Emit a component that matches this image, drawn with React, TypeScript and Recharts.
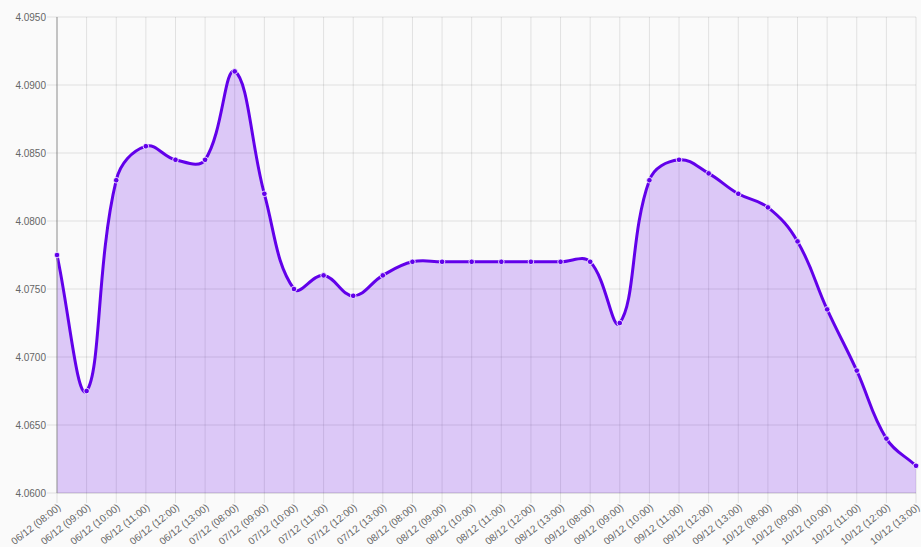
import React from 'react'
import { AreaChart, Area, XAxis, YAxis, CartesianGrid } from 'recharts'

// ─── data ─────────────────────────────────────────────────────────────────────
const labels = [
  '06/12 (08:00)', '06/12 (09:00)', '06/12 (10:00)', '06/12 (11:00)', '06/12 (12:00)', '06/12 (13:00)',
  '07/12 (08:00)', '07/12 (09:00)', '07/12 (10:00)', '07/12 (11:00)', '07/12 (12:00)', '07/12 (13:00)',
  '08/12 (08:00)', '08/12 (09:00)', '08/12 (10:00)', '08/12 (11:00)', '08/12 (12:00)', '08/12 (13:00)',
  '09/12 (08:00)', '09/12 (09:00)', '09/12 (10:00)', '09/12 (11:00)', '09/12 (12:00)', '09/12 (13:00)',
  '10/12 (08:00)', '10/12 (09:00)', '10/12 (10:00)', '10/12 (11:00)', '10/12 (12:00)', '10/12 (13:00)',
]

const rates = [
  4.0775, 4.0675, 4.083, 4.0855, 4.0845, 4.0845,
  4.091, 4.082, 4.075, 4.076, 4.0745, 4.076,
  4.077, 4.077, 4.077, 4.077, 4.077, 4.077,
  4.077, 4.0725, 4.083, 4.0845, 4.0835, 4.082,
  4.081, 4.0785, 4.0735, 4.069, 4.064, 4.062,
]

const yTicks = [4.06, 4.065, 4.07, 4.075, 4.08, 4.085, 4.09, 4.095]

const data = labels.map((label, i) => ({ label, rate: rates[i] }))

const LINE = '#6200ea'
const FONT = '"Liberation Sans", Arial, Helvetica, sans-serif'

// Chart.js-style bezier spline (tension 0.4) as a d3 curve factory
function splineCurve(ctx: any) {
  let pts: { x: number; y: number }[] = []
  let line = NaN
  const t = 0.4
  return {
    areaStart() { line = 0 },
    areaEnd() { line = NaN },
    lineStart() { pts = [] },
    point(x: number, y: number) { pts.push({ x: +x, y: +y }) },
    lineEnd() {
      const n = pts.length
      if (n) {
        if (line) ctx.lineTo(pts[0].x, pts[0].y)
        else ctx.moveTo(pts[0].x, pts[0].y)
        const cps = pts.map((cur, i) => {
          const prev = pts[i - 1] || cur
          const next = pts[i + 1] || cur
          const d01 = Math.hypot(cur.x - prev.x, cur.y - prev.y)
          const d12 = Math.hypot(next.x - cur.x, next.y - cur.y)
          let s01 = d01 / (d01 + d12)
          let s12 = d12 / (d01 + d12)
          if (isNaN(s01)) s01 = 0
          if (isNaN(s12)) s12 = 0
          const fa = t * s01
          const fb = t * s12
          return {
            prev: { x: cur.x - fa * (next.x - prev.x), y: cur.y - fa * (next.y - prev.y) },
            next: { x: cur.x + fb * (next.x - prev.x), y: cur.y + fb * (next.y - prev.y) },
          }
        })
        for (let i = 1; i < n; i++) {
          const a = cps[i - 1].next
          const b = cps[i].prev
          ctx.bezierCurveTo(a.x, a.y, b.x, b.y, pts[i].x, pts[i].y)
        }
      }
      if (line || (line !== 0 && n === 1)) ctx.closePath()
      line = 1 - line
    },
  }
}

function XTick({ x, y, payload }: any) {
  return (
    <text
      x={x}
      y={y}
      dy="0.72em"
      textAnchor="end"
      transform={`rotate(-38, ${x}, ${y})`}
      fontSize={10}
      fontFamily={FONT}
      fill="#666"
    >
      {payload.value}
    </text>
  )
}

export default function App() {
  return (
    <div style={{ position: 'fixed', left: 0, top: 0, width: 921, height: 547, background: '#fafafa' }}>
      <AreaChart width={921} height={547} data={data} margin={{ top: 17, right: 5, left: 0, bottom: 0 }}>
        <CartesianGrid stroke="rgba(0,0,0,0.1)" />
        <XAxis
          dataKey="label"
          interval={0}
          height={54}
          tickSize={10}
          tickMargin={0}
          tick={<XTick />}
          tickLine={{ stroke: 'rgba(0,0,0,0.1)' }}
          axisLine={{ stroke: 'rgba(0,0,0,0.1)' }}
        />
        <YAxis
          width={57}
          domain={[4.06, 4.095]}
          ticks={yTicks}
          tickFormatter={(v: number) => v.toFixed(4)}
          tickSize={10}
          tickMargin={1}
          tick={{ fontSize: 10, fill: '#666', fontFamily: FONT }}
          tickLine={{ stroke: 'rgba(0,0,0,0.1)' }}
          axisLine={{ stroke: '#999' }}
          allowDataOverflow
        />
        <Area
          dataKey="rate"
          type={splineCurve as any}
          baseValue="dataMin"
          stroke={LINE}
          strokeWidth={3}
          fill={LINE}
          fillOpacity={0.2}
          dot={{ r: 2.8, fill: LINE, fillOpacity: 1, stroke: '#fff', strokeWidth: 1, strokeOpacity: 0.8 }}
          activeDot={false}
          isAnimationActive={false}
        />
      </AreaChart>
    </div>
  )
}
